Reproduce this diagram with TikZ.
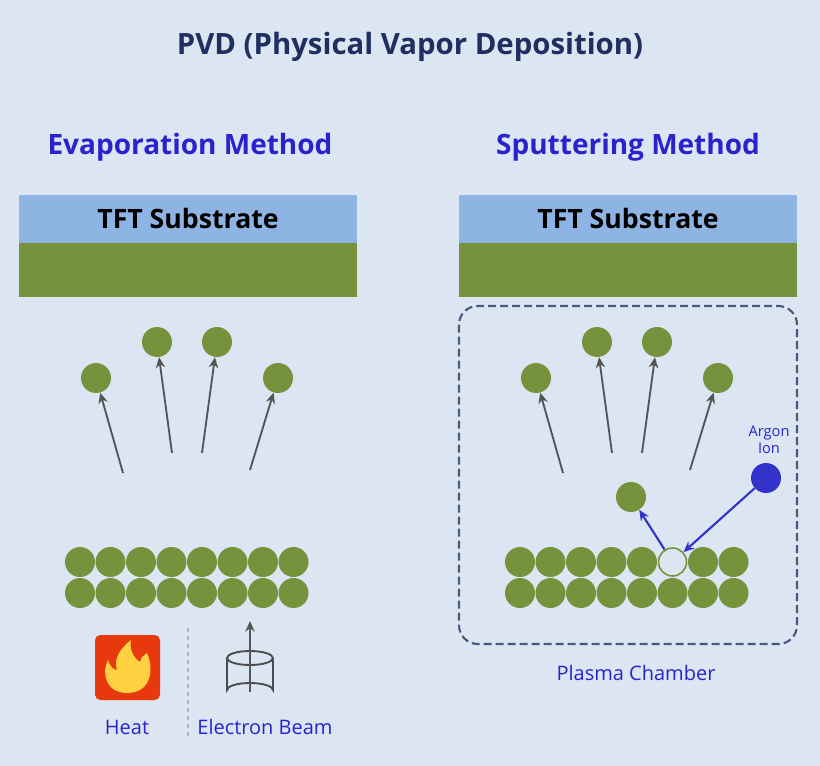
\documentclass[tikz,border=0pt]{standalone}
\usepackage{fontspec}
\setmainfont{Open Sans}
\usetikzlibrary{arrows.meta}
\definecolor{bg}{HTML}{DCE6F2}
\definecolor{grn}{HTML}{76923C}
\definecolor{sub}{HTML}{8EB4E3}
\definecolor{ttl}{HTML}{2A22CC}
\definecolor{navy}{HTML}{1F2F5F}
\definecolor{arr}{HTML}{555555}
\definecolor{ion}{HTML}{3333CC}
\definecolor{fire}{HTML}{E8380D}
\definecolor{flame}{HTML}{FFD040}
\begin{document}
\begin{tikzpicture}[x=0.75pt,y=-0.75pt,
 atom/.style={circle,fill=grn,minimum size=22.5pt,inner sep=0pt},
 up/.style={draw=arr,line width=1.4pt,-{Stealth[length=8pt,width=7pt]}},
 blu/.style={draw=ion,line width=1.6pt,-{Stealth[length=8pt,width=7pt]}},
 head/.style={font=\bfseries\fontsize{21}{24}\selectfont,text=ttl},
 lbl/.style={font=\fontsize{15}{18}\selectfont,text=ttl}]
\fill[bg] (0,0) rectangle (820,766);
\node[font=\bfseries\fontsize{22}{26}\selectfont,text=navy] (t) at (410,47) {PVD (Physical Vapor Deposition)};
\node[head] (h1) at (190,147) {Evaporation Method};
\node[head] (h2) at (628,147) {Sputtering Method};
\foreach \ox/\n in {0/a,440/b}{
 \fill[sub] (19+\ox,195) rectangle (357+\ox,243);
 \fill[grn] (19+\ox,243) rectangle (357+\ox,297);
 \node[font=\bfseries\fontsize{20}{24}\selectfont] (s\n) at (188+\ox,219) {TFT Substrate};
 \node[atom] (f1\n) at (96+\ox,378) {};
 \node[atom] (f2\n) at (157+\ox,342) {};
 \node[atom] (f3\n) at (217+\ox,342) {};
 \node[atom] (f4\n) at (278+\ox,378) {};
 \coordinate (c1\n) at (123+\ox,473);
 \coordinate (c2\n) at (172+\ox,453);
 \coordinate (c3\n) at (202+\ox,453);
 \coordinate (c4\n) at (250+\ox,470);
 \foreach \i in {1,...,4} \draw[up] (c\i\n) -- (f\i\n);
 \foreach \i in {0,...,7}{
  \node[atom] (r\n\i) at (80+\ox+\i*30.5,593) {};
  \ifnum\i=5\relax
   \ifnum\ox=440\relax
    \node[circle,draw=grn,fill=bg,line width=1.2pt,minimum size=21pt,inner sep=0pt] (hole) at (80+\ox+\i*30.5,562) {};
   \else
    \node[atom] (q\n\i) at (80+\ox+\i*30.5,562) {};
   \fi
  \else
   \node[atom] (q\n\i) at (80+\ox+\i*30.5,562) {};
  \fi
 }
}
% sputtering details
\draw[draw=navy!80,dashed,line width=1.6pt,dash pattern=on 6pt off 3pt,rounded corners=14pt] (459,306) rectangle (797,644);
\node[atom] (sp) at (631,497) {};
\node[circle,fill=ion,minimum size=22.5pt,inner sep=0pt] (ar) at (766,478) {};
\node[align=center,font=\fontsize{11}{13}\selectfont,text=ttl] (arl) at (769,440) {Argon\\Ion};
\draw[blu] (ar) -- (hole);
\draw[blu] (hole) -- (sp);
\node[lbl] (pc) at (636,673) {Plasma Chamber};
% heat
\fill[fire,rounded corners=4pt] (95,635) rectangle (160,700);
\fill[flame] (127,693) .. controls (106,693) and (101,673) .. (108,660)
 .. controls (110,667) and (114,670) .. (117,670)
 .. controls (113,658) and (121,648) .. (131,640)
 .. controls (129,650) and (134,658) .. (140,662)
 .. controls (141,657) and (144,655) .. (147,653)
 .. controls (154,668) and (152,693) .. (127,693) -- cycle;
\node[lbl] (heat) at (127,727) {Heat};
\coordinate (d1) at (188,628); \coordinate (d2) at (188,740);
\draw[gray!60,dashed,line width=1.2pt] (d1) -- (d2);
% cylinder
\draw[arr!90!black,line width=1.4pt] (227,658) -- (227,690) arc[start angle=180,end angle=360,x radius=23,y radius=7] -- (273,658);
\draw[arr!90!black,line width=1.4pt] (250,658) ellipse[x radius=23,y radius=7];
\coordinate (e1) at (250,692); \coordinate (e2) at (250,621);
\draw[up] (e1) -- (e2);
\node[lbl] (eb) at (265,727) {Electron Beam};
\end{tikzpicture}
\end{document}
